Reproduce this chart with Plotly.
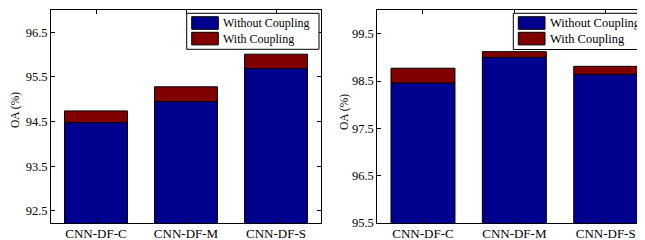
import plotly.graph_objects as go

categories = ["CNN-DF-C", "CNN-DF-M", "CNN-DF-S"]
left_without = [94.48, 94.95, 95.69]
left_with = [94.74, 95.28, 96.01]
right_without = [98.46, 99.00, 98.64]
right_with = [98.77, 99.12, 98.81]
left_ticks = [92.5, 93.5, 94.5, 95.5, 96.5]
right_ticks = [95.5, 96.5, 97.5, 98.5, 99.5]
series_names = ["Without Coupling", "With Coupling"]
y_title = "OA (%)"

BLUE = "#00008F"
RED = "#800000"
OFF = 8  # default page body margin
W, H = 645 - OFF, 240 - OFF
FONT = "Times New Roman, Liberation Serif, serif"

fig = go.Figure()
xpos = [1, 2, 3]
for xa, ya, wo, wi in [("x", "y", left_without, left_with), ("x2", "y2", right_without, right_with)]:
    fig.add_trace(go.Bar(x=xpos, y=wo, xaxis=xa, yaxis=ya, marker=dict(color=BLUE, line=dict(color="black", width=1)),
                         width=0.7, name=series_names[0], showlegend=False))
    fig.add_trace(go.Bar(x=xpos, y=[b - a for a, b in zip(wo, wi)], base=wo, xaxis=xa, yaxis=ya,
                         marker=dict(color=RED, line=dict(color="black", width=1)),
                         width=0.7, name=series_names[1], showlegend=False))

def px(x):
    return (x - OFF) / W

def py(y):
    return 1 - (y - OFF) / H

def axis_common(fs):
    return dict(showline=True, linecolor="black", linewidth=1, mirror="ticks", ticks="inside", ticklen=4,
                tickcolor="black", showgrid=False, zeroline=False, automargin=False,
                tickfont=dict(family=FONT, size=fs, color="black"))

fig.update_layout(
    width=W, height=H, margin=dict(l=0, r=0, t=0, b=0),
    paper_bgcolor="white", plot_bgcolor="white", barmode="overlay", showlegend=False,
    xaxis=dict(domain=[px(51), px(321)], range=[0.5, 3.5], tickvals=xpos, ticktext=categories, anchor="y",
               ticklabelstandoff=-2, **axis_common(13)),
    yaxis=dict(domain=[py(223), py(10)], range=[92.23, 97.0], tickvals=left_ticks,
               ticktext=[f"{v:.1f}" for v in left_ticks], anchor="x", **axis_common(12.5)),
    xaxis2=dict(domain=[px(377.3), 1.0], range=[0.5, 3.43], tickvals=xpos, ticktext=categories, anchor="y2",
                ticklabelstandoff=-2, **axis_common(13)),
    yaxis2=dict(domain=[py(223), py(10)], range=[95.5, 100.0], tickvals=right_ticks,
                ticktext=[f"{v:.1f}" for v in right_ticks], anchor="x2", **axis_common(12.5)),
)

shapes = []
annotations = []
# y-axis titles
for xc, yc in [(15, 110), (344, 112)]:
    annotations.append(dict(xref="paper", yref="paper", x=px(xc), y=py(yc), text=y_title, textangle=-90,
                            showarrow=False, xanchor="center", yanchor="middle",
                            font=dict(family=FONT, size=11.5, color="black")))

# Legends (MATLAB-style boxes)
for (bx0, bx1, by0, by1, sx0, sx1, tx, fs) in [(186.7, 319, 13.3, 49.3, 191.7, 218.3, 220.7, 12),
                                               (513.3, 660, 13.3, 49.5, 518.3, 545, 548.3, 12.5)]:
    shapes.append(dict(type="rect", xref="paper", yref="paper", x0=px(bx0), x1=px(bx1), y0=py(by1), y1=py(by0),
                       line=dict(color="black", width=1), fillcolor="white", layer="above"))
    for i, (col, name) in enumerate([(BLUE, series_names[0]), (RED, series_names[1])]):
        yt = 16.7 + i * 15.6
        shapes.append(dict(type="rect", xref="paper", yref="paper", x0=px(sx0), x1=px(sx1), y0=py(yt + 12.6), y1=py(yt),
                           line=dict(color="black", width=1), fillcolor=col, layer="above"))
        annotations.append(dict(xref="paper", yref="paper", x=px(tx), y=py(yt + 6.3), xanchor="left", yanchor="middle",
                                text=name, showarrow=False, font=dict(family=FONT, size=fs, color="black")))
fig.update_layout(shapes=shapes, annotations=annotations)

fig.write_html("out.html")
